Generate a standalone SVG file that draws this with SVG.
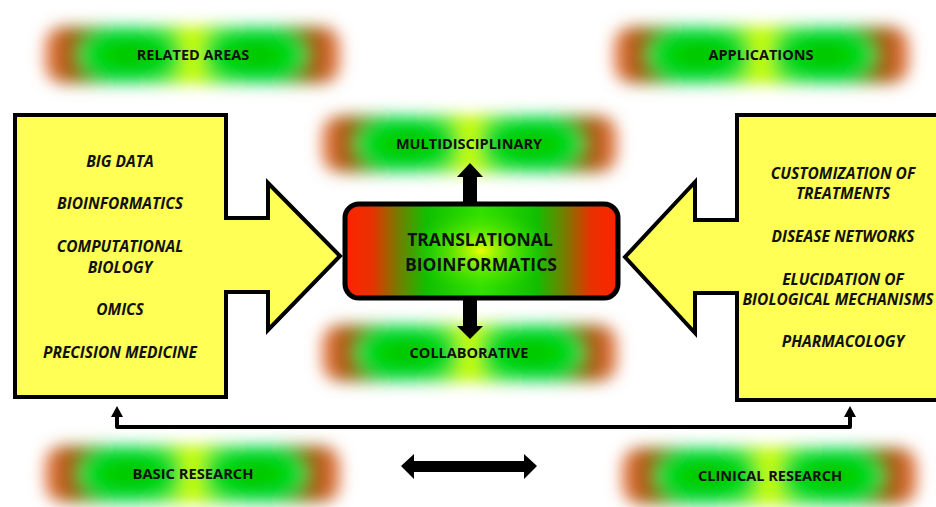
<svg xmlns="http://www.w3.org/2000/svg" xmlns:xlink="http://www.w3.org/1999/xlink" width="936" height="507" viewBox="0 0 936 507">
<style>
.gl{font-family:"Open Sans","Liberation Sans",sans-serif;font-weight:700;font-size:14.5px;fill:#111;text-anchor:middle}
.it{font-family:"Open Sans","Liberation Sans",sans-serif;font-weight:700;font-style:italic;font-size:15.5px;fill:#111;text-anchor:middle}
.ct{font-family:"Open Sans","Liberation Sans",sans-serif;font-weight:700;font-size:17.5px;fill:#111;text-anchor:middle}
.yel{fill:#ffff55;stroke:#000;stroke-width:4;stroke-linejoin:miter}
</style>
<defs>
<linearGradient id="gg" x1="0" y1="0" x2="1" y2="0">
<stop offset="0" stop-color="#f07a4a"/>
<stop offset="0.08" stop-color="#a85a10"/>
<stop offset="0.2" stop-color="#18b800"/>
<stop offset="0.4" stop-color="#38e400"/>
<stop offset="0.5" stop-color="#d8ff00"/>
<stop offset="0.6" stop-color="#38e400"/>
<stop offset="0.8" stop-color="#18b800"/>
<stop offset="0.92" stop-color="#a85a10"/>
<stop offset="1" stop-color="#f07a4a"/>
</linearGradient>
<radialGradient id="ge" cx="0.5" cy="0.5" r="0.5">
<stop offset="0" stop-color="#00c000"/>
<stop offset="0.7" stop-color="#00d800"/>
<stop offset="1" stop-color="#00e070"/>
</radialGradient>
<filter id="blur" x="-20%" y="-60%" width="140%" height="220%">
<feGaussianBlur stdDeviation="8"/>
</filter>
<g id="glowShape">
<rect x="0" y="-3" width="295" height="56" rx="18" fill="url(#gg)"/>
<ellipse cx="85" cy="25" rx="52" ry="27" fill="url(#ge)"/>
<ellipse cx="210" cy="25" rx="52" ry="27" fill="url(#ge)"/>
</g>
<linearGradient id="cg" x1="0" y1="0" x2="1" y2="0">
<stop offset="0" stop-color="#ff2200"/>
<stop offset="0.1" stop-color="#e83200"/>
<stop offset="0.2" stop-color="#708000"/>
<stop offset="0.3" stop-color="#10c000"/>
<stop offset="0.5" stop-color="#30e000"/>
<stop offset="0.7" stop-color="#10c000"/>
<stop offset="0.8" stop-color="#708000"/>
<stop offset="0.9" stop-color="#e83200"/>
<stop offset="1" stop-color="#ff2200"/>
</linearGradient>
<radialGradient id="cy" cx="0.5" cy="0.5" r="0.5">
<stop offset="0" stop-color="#e8ff00" stop-opacity="1"/>
<stop offset="0.5" stop-color="#80f000" stop-opacity="0.5"/>
<stop offset="1" stop-color="#30e000" stop-opacity="0"/>
</radialGradient>
</defs>

<g id="related-areas">
<use xlink:href="#glowShape" href="#glowShape" x="45" y="30" filter="url(#blur)"/>
<text class="gl" x="193" y="60">RELATED AREAS</text>
</g>
<g id="applications">
<use xlink:href="#glowShape" href="#glowShape" x="614" y="30" filter="url(#blur)"/>
<text class="gl" x="761" y="60">APPLICATIONS</text>
</g>
<g id="multidisciplinary">
<use xlink:href="#glowShape" href="#glowShape" x="322" y="119" filter="url(#blur)"/>
<text class="gl" x="469" y="149">MULTIDISCIPLINARY</text>
</g>
<g id="collaborative">
<use xlink:href="#glowShape" href="#glowShape" x="322" y="328" filter="url(#blur)"/>
<text class="gl" x="469" y="358">COLLABORATIVE</text>
</g>
<g id="basic-research">
<use xlink:href="#glowShape" href="#glowShape" x="45" y="449" filter="url(#blur)"/>
<text class="gl" x="193" y="479" textLength="121" lengthAdjust="spacingAndGlyphs">BASIC RESEARCH</text>
</g>
<g id="clinical-research">
<use xlink:href="#glowShape" href="#glowShape" x="622" y="451" filter="url(#blur)"/>
<text class="gl" x="770" y="481" textLength="144" lengthAdjust="spacingAndGlyphs">CLINICAL RESEARCH</text>
</g>

<g id="left-box">
<path class="yel" d="M15,115 L226,115 L226,218 L268,218 L268,183 L340,256 L268,330 L268,292 L226,292 L226,397 L15,397 Z"/>
<text class="it" x="120" y="167">BIG DATA</text>
<text class="it" x="120" y="209">BIOINFORMATICS</text>
<text class="it" x="120" y="252">COMPUTATIONAL</text>
<text class="it" x="120" y="273">BIOLOGY</text>
<text class="it" x="120" y="315">OMICS</text>
<text class="it" x="120" y="358">PRECISION MEDICINE</text>
</g>

<g id="right-box">
<path class="yel" d="M942,115 L737,115 L737,220 L695,220 L695,182 L625,257 L695,333 L695,293 L737,293 L737,400 L942,400 Z"/>
<text class="it" x="843" y="179">CUSTOMIZATION OF</text>
<text class="it" x="843" y="199">TREATMENTS</text>
<text class="it" x="843" y="242">DISEASE NETWORKS</text>
<text class="it" x="843" y="285">ELUCIDATION OF</text>
<text class="it" x="838" y="305">BIOLOGICAL MECHANISMS</text>
<text class="it" x="843" y="347">PHARMACOLOGY</text>
</g>

<g id="translational-bioinformatics">
<rect x="345" y="204" width="273" height="94" rx="14" fill="url(#cg)" stroke="#000" stroke-width="5"/>
<ellipse cx="481" cy="251" rx="70" ry="44" fill="url(#cy)"/>
<text class="ct" x="480" y="246">TRANSLATIONAL</text>
<text class="ct" x="481" y="271">BIOINFORMATICS</text>
</g>

<g id="connectors" fill="#000">
<path d="M463,202 L463,177 L457,177 L470,163 L483,177 L477,177 L477,202 Z"/>
<path d="M463,300 L463,326 L457,326 L470,339 L483,326 L477,326 L477,300 Z"/>
<path d="M117,413 L117,427 L850,427 L850,413" fill="none" stroke="#000" stroke-width="4" stroke-linejoin="round"/>
<path d="M111,417 L117,406 L123,417 Z"/>
<path d="M844,417 L850,406 L856,417 Z"/>
<path d="M401,466 L414,454 L414,461 L524,461 L524,454 L537,466 L524,479 L524,472 L414,472 L414,479 Z"/>
</g>
</svg>
